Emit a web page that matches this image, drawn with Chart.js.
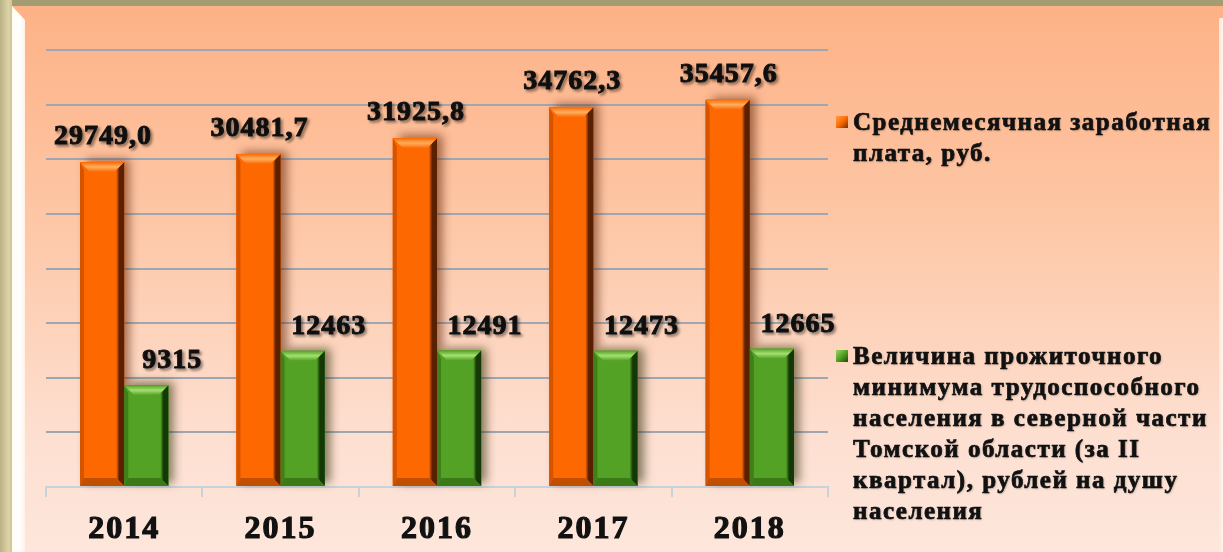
<!DOCTYPE html>
<html>
<head>
<meta charset="utf-8">
<script src="https://cdn.jsdelivr.net/npm/chart.js@4.4.1/dist/chart.umd.min.js"></script>
<style>
  html, body { margin: 0; padding: 0; }
  #frame {
    position: relative;
    width: 1223px;
    height: 552px;
    overflow: hidden;
    background: linear-gradient(to bottom, #fdb185 0%, #fdc7a6 40%, #fde0d2 80%, #fde6db 100%);
  }
  #topband { position: absolute; left: 0; top: 0; width: 1223px; height: 6px; background: #a59d72; }
  #leftband { position: absolute; left: 0; top: 0; width: 12px; height: 552px;
    background: linear-gradient(to right, #b9b083, #dcd3a6 70%, #cfc597); }
  #leftbevel { position: absolute; left: 12px; top: 6px; width: 13px; height: 546px;
    background: linear-gradient(to right, #fffdf0, #ffffff 60%, #fff2e6);
    clip-path: polygon(0 0, 100% 14px, 100% 100%, 0 100%); }
  #rightbevel { position: absolute; right: 0; top: 18px; width: 4px; height: 534px;
    background: linear-gradient(to right, #fde6d8, #fff6ec); }
  canvas { position: absolute; left: 0; top: 0; }
  .legend {
    position: absolute;
    left: 853px;
    font-family: "Liberation Serif", serif;
    font-weight: bold;
    font-size: 25px;
    line-height: 31px;
    letter-spacing: 1.5px;
    color: #111;
    -webkit-text-stroke: 0.7px #111;
    white-space: nowrap;
    text-shadow: 1px 1px 2px rgba(0,0,0,0.25);
  }
  .mark { position: absolute; left: 836px; width: 12px; height: 12px; }
</style>
</head>
<body>
<div id="frame">
  <div id="topband"></div>
  <div id="leftband"></div>
  <div id="leftbevel"></div>
  <div id="rightbevel"></div>
  <canvas id="chart" width="1223" height="552"></canvas>
  <div class="mark" style="top:116px;background:linear-gradient(135deg,#ffa040,#ff6a00 50%,#7a3000);"></div>
  <div class="legend" id="leg1" style="top:106px;"></div>
  <div class="mark" style="top:350px;background:linear-gradient(135deg,#9ad66a,#52a024 50%,#1f4a0a);"></div>
  <div class="legend" id="leg2" style="top:340px;"></div>
</div>
<script>
// chart values
const years = ['2014', '2015', '2016', '2017', '2018'];
const salary = [29749.0, 30481.7, 31925.8, 34762.3, 35457.6];
const minimum = [9315, 12463, 12491, 12473, 12665];
const seriesNames = [
  ['Среднемесячная заработная', 'плата, руб.'],
  ['Величина прожиточного', 'минимума трудоспособного', 'населения в северной части',
   'Томской области (за II', 'квартал), рублей на душу', 'населения']
];

document.getElementById('leg1').innerHTML = seriesNames[0].join('<br>');
document.getElementById('leg2').innerHTML = seriesNames[1].join('<br>');

// colours for the bevelled bars
const barStyles = [
  { main: '#fe6800', light: '#ffb060', left: '#d55400', right: '#5a2000', bottom: '#c05000', shadow: 'rgba(90,30,0,0.55)' },
  { main: '#53a125', light: '#a4e070', left: '#3f8018', right: '#143806', bottom: '#3c7a18', shadow: 'rgba(40,40,0,0.55)' }
];

function fmtSalary(v) { return v.toFixed(1).replace('.', ','); }

const bevelPlugin = {
  id: 'bevel',
  beforeDraw(chart) {
    // a bit of spacing for the year labels
    chart.ctx.letterSpacing = '2px';
  },
  beforeDatasetsDraw(chart) {
    const ctx = chart.ctx;
    ctx.letterSpacing = '0px';
    chart.data.datasets.forEach((ds, i) => {
      const st = barStyles[i];
      chart.getDatasetMeta(i).data.forEach(bar => {
        const { x, y, base, width } = bar.getProps(['x', 'y', 'base', 'width'], true);
        ctx.save();
        ctx.shadowColor = st.shadow;
        ctx.shadowBlur = 9;
        ctx.shadowOffsetX = 6;
        ctx.shadowOffsetY = -3;
        ctx.fillStyle = st.main;
        ctx.fillRect(x - width / 2, y, width, base - y);
        ctx.restore();
      });
    });
  },
  afterDatasetsDraw(chart) {
    const ctx = chart.ctx;
    chart.data.datasets.forEach((ds, i) => {
      const st = barStyles[i];
      chart.getDatasetMeta(i).data.forEach(bar => {
        const { x, y, base, width } = bar.getProps(['x', 'y', 'base', 'width'], true);
        const l = x - width / 2, r = x + width / 2, t = y, b = base, s = 8;
        ctx.save();
        // left facet
        ctx.fillStyle = st.left;
        ctx.beginPath();
        ctx.moveTo(l, t); ctx.lineTo(l + 4, t + s); ctx.lineTo(l + 4, b - s); ctx.lineTo(l, b);
        ctx.closePath(); ctx.fill();
        // right facet
        let g = ctx.createLinearGradient(r - s, 0, r, 0);
        g.addColorStop(0, st.main); g.addColorStop(0.4, st.right); g.addColorStop(1, st.right);
        ctx.fillStyle = g;
        ctx.beginPath();
        ctx.moveTo(r, t); ctx.lineTo(r - s, t + s); ctx.lineTo(r - s, b - s); ctx.lineTo(r, b);
        ctx.closePath(); ctx.fill();
        // bottom facet
        ctx.fillStyle = st.bottom;
        ctx.beginPath();
        ctx.moveTo(l, b); ctx.lineTo(l + 4, b - s); ctx.lineTo(r - s, b - s); ctx.lineTo(r, b);
        ctx.closePath(); ctx.fill();
        // top facet
        g = ctx.createLinearGradient(0, t, 0, t + s + 2);
        g.addColorStop(0, st.main); g.addColorStop(0.5, st.light); g.addColorStop(1, st.main);
        ctx.fillStyle = g;
        ctx.beginPath();
        ctx.moveTo(l, t); ctx.lineTo(r, t); ctx.lineTo(r - s - 2, t + s + 2); ctx.lineTo(l + s + 2, t + s + 2);
        ctx.closePath(); ctx.fill();
        ctx.restore();
      });
    });
  },
  afterDraw(chart) {
    const ctx = chart.ctx;
    ctx.save();
    ctx.font = 'bold 28px "Liberation Serif"';
    ctx.letterSpacing = '1px';
    ctx.textAlign = 'center';
    ctx.textBaseline = 'middle';
    ctx.fillStyle = '#111';
    ctx.strokeStyle = '#111';
    ctx.lineWidth = 1;
    ctx.shadowColor = 'rgba(0,0,0,0.4)';
    ctx.shadowBlur = 3;
    ctx.shadowOffsetX = 2;
    ctx.shadowOffsetY = 2;
    chart.getDatasetMeta(0).data.forEach((bar, j) => {
      ctx.fillText(fmtSalary(salary[j]), bar.x + 1, bar.y - 25);
      ctx.strokeText(fmtSalary(salary[j]), bar.x + 1, bar.y - 25);
    });
    chart.getDatasetMeta(1).data.forEach((bar, j) => {
      ctx.fillText(String(minimum[j]), bar.x + 26, bar.y - 24);
      ctx.strokeText(String(minimum[j]), bar.x + 26, bar.y - 24);
    });
    ctx.restore();
  }
};

new Chart(document.getElementById('chart').getContext('2d'), {
  type: 'bar',
  data: {
    labels: years,
    datasets: [
      { label: seriesNames[0].join(' '), data: salary, backgroundColor: barStyles[0].main },
      { label: seriesNames[1].join(' '), data: minimum, backgroundColor: barStyles[1].main }
    ]
  },
  options: {
    responsive: false,
    animation: false,
    layout: { padding: { left: 46, right: 395, top: 50, bottom: 0 } },
    datasets: { bar: { categoryPercentage: 0.565, barPercentage: 1.0 } },
    plugins: { legend: { display: false }, tooltip: { enabled: false } },
    scales: {
      x: {
        afterFit(scale) { scale.height = 65; },
        grid: { drawOnChartArea: false, color: '#c6d2dc', lineWidth: 2, tickLength: 10, offset: true },
        border: { color: '#c6d2dc', width: 2 },
        ticks: {
          color: '#111',
          padding: 14,
          textStrokeColor: '#111',
          textStrokeWidth: 1.2,
          font: { family: '"Liberation Serif"', weight: 'bold', size: 32 }
        }
      },
      y: {
        min: 0,
        max: 40000,
        ticks: { display: false, stepSize: 5000 },
        grid: { color: '#9ea7b1', lineWidth: 2, drawTicks: false },
        border: { display: false }
      }
    }
  },
  plugins: [bevelPlugin]
});
</script>
</body>
</html>
